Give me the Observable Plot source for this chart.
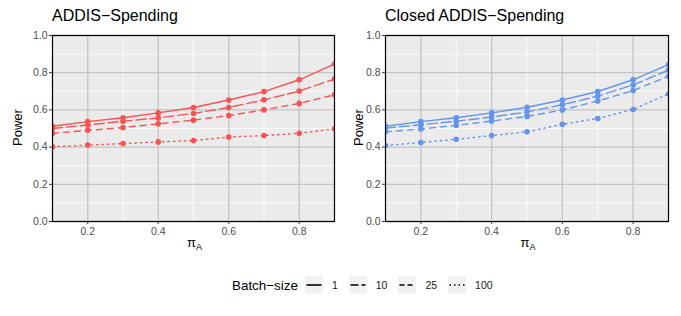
<!DOCTYPE html>
<html><head><meta charset="utf-8">
<script src="https://cdn.jsdelivr.net/npm/d3@7"></script>
<script src="https://cdn.jsdelivr.net/npm/@observablehq/plot@0.6"></script>
<style>
body{margin:0;background:#fff;font-family:"Liberation Sans",Arial,sans-serif;}
#wrap{position:relative;width:681px;height:316px;}
.panel{position:absolute;top:0;}
.title{position:absolute;font-size:16px;color:#000;white-space:nowrap;}
.ylab{position:absolute;font-size:13px;color:#000;transform:rotate(-90deg);transform-origin:center;white-space:nowrap;}
.xlab{position:absolute;font-size:13px;color:#000;white-space:nowrap;}
.xlab sub{font-size:9px;vertical-align:-3px;}
#legend{position:absolute;top:276px;left:232px;display:flex;align-items:center;font-size:10.5px;color:#1a1a1a;}
#legend .lt{font-size:13.4px;color:#000;margin-right:7px;}
#legend svg{background:#F2F2F2;margin-right:9px;}
#legend .lab{margin-right:11px;}
</style></head>
<body><div id="wrap"></div>
<script>
const piA = [0.1,0.2,0.3,0.4,0.5,0.6,0.7,0.8,0.9];
const batchSizes = [1,10,25,100];
const addis1   = [0.512,0.537,0.558,0.584,0.613,0.653,0.698,0.762,0.847];
const addis10  = [0.500,0.519,0.539,0.557,0.581,0.613,0.654,0.701,0.766];
const addis25  = [0.474,0.490,0.505,0.525,0.545,0.570,0.600,0.635,0.681];
const addis100 = [0.402,0.411,0.419,0.428,0.435,0.454,0.462,0.474,0.498];
const closed1   = [0.512,0.537,0.558,0.584,0.614,0.653,0.699,0.762,0.844];
const closed10  = [0.502,0.520,0.539,0.562,0.589,0.628,0.674,0.734,0.814];
const closed25  = [0.482,0.497,0.517,0.540,0.565,0.600,0.648,0.704,0.781];
const closed100 = [0.408,0.425,0.442,0.462,0.482,0.523,0.554,0.602,0.686];
const xTicks = [0.2,0.4,0.6,0.8];
const yTicks = [0,0.2,0.4,0.6,0.8,1.0];
const titles = ["ADDIS\u2212Spending","Closed ADDIS\u2212Spending"];
const dashes = {1:null,10:"10,4",25:"6,5",100:"1.5,4"};

function rows(arrs){
  const out=[];
  batchSizes.forEach((b,i)=>piA.forEach((x,j)=>out.push({x,y:arrs[i][j],batch:b})));
  return out;
}
const panels = [
  {data:rows([addis1,addis10,addis25,addis100]), color:"#F85252", left:0, width:340, ml:52, mr:6, ylabX:-5, titleX:52},
  {data:rows([closed1,closed10,closed25,closed100]), color:"#6495ED", left:340, width:341, ml:45, mr:13, ylabX:333, titleX:385}
];
const wrap = document.getElementById("wrap");
panels.forEach((p,k)=>{
  const marks = [
    Plot.frame({fill:"#EBEBEB"}),
    Plot.gridX([0.3,0.5,0.7],{stroke:"#fff",strokeOpacity:1,strokeWidth:0.8}),
    Plot.gridY([0.1,0.3,0.5,0.7,0.9],{stroke:"#fff",strokeOpacity:1,strokeWidth:0.8}),
    Plot.gridX(xTicks,{stroke:"#C4C4C4",strokeOpacity:1,strokeWidth:1.3}),
    Plot.gridY(yTicks,{stroke:"#C4C4C4",strokeOpacity:1,strokeWidth:1.3}),
  ];
  batchSizes.forEach(b=>{
    const d = p.data.filter(r=>r.batch===b);
    marks.push(Plot.line(d,{x:"x",y:"y",stroke:p.color,strokeWidth:1.4,strokeDasharray:dashes[b],clip:true}));
    marks.push(Plot.dot(d,{x:"x",y:"y",fill:p.color,r:2.8,clip:true}));
  });
  marks.push(Plot.frame({stroke:"#000",strokeWidth:1.2}));
  marks.push(Plot.axisX(xTicks,{tickSize:3,tickPadding:3,tickFormat:d=>d.toFixed(1),fontSize:10.5,color:"#4D4D4D",stroke:"#333",label:null}));
  marks.push(Plot.axisY(yTicks,{tickSize:3,tickPadding:2,tickFormat:d=>d.toFixed(1),fontSize:10.5,color:"#4D4D4D",stroke:"#333",label:null}));
  const chart = Plot.plot({
    width:p.width, height:265,
    marginTop:35, marginBottom:44, marginLeft:p.ml, marginRight:p.mr,
    style:{fontFamily:"Liberation Sans, Arial, sans-serif",background:"transparent"},
    x:{domain:[0.1,0.9],label:null},
    y:{domain:[0,1],label:null},
    marks
  });
  const div=document.createElement("div");
  div.className="panel"; div.style.left=p.left+"px";
  div.appendChild(chart);
  wrap.appendChild(div);
  const t=document.createElement("div"); t.className="title"; t.textContent=titles[k];
  t.style.left=p.titleX+"px"; t.style.top="7px"; wrap.appendChild(t);
  const yl=document.createElement("div"); yl.className="ylab"; yl.textContent="Power";
  yl.style.left=(p.left+ (k===0?-3:-2))+"px"; yl.style.top="120px"; yl.style.width="40px"; yl.style.textAlign="center";
  wrap.appendChild(yl);
  const xl=document.createElement("div"); xl.className="xlab"; xl.innerHTML="\u03C0<sub>A</sub>";
  const cx = p.left + p.ml + (p.width-p.ml-p.mr)/2;
  xl.style.left=(cx-6)+"px"; xl.style.top="235px"; wrap.appendChild(xl);
});
// legend
const leg=document.createElement("div"); leg.id="legend";
let html='<span class="lt">Batch\u2212size</span>';
batchSizes.forEach(b=>{
  const da = dashes[b] ? ` stroke-dasharray="${b===100?'1.5,3':(b===10?'8,3':'5,3')}"` : "";
  html+=`<svg width="18" height="18"><line x1="1.5" x2="16.5" y1="9" y2="9" stroke="#000" stroke-width="1.6"${da}/></svg><span class="lab">${b}</span>`;
});
leg.innerHTML=html; wrap.appendChild(leg);
</script></body></html>
